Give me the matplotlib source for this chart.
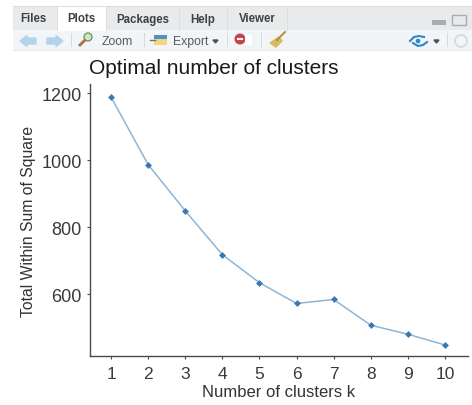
import matplotlib
matplotlib.use("Agg")
import matplotlib.pyplot as plt
from matplotlib.patches import Rectangle, Polygon, Circle

k_values = [1, 2, 3, 4, 5, 6, 7, 8, 9, 10]
wss_values = [1189, 987, 849, 718, 634, 572, 584, 507, 480, 448]
y_ticks = [600, 800, 1000, 1200]
tabs = ["Files", "Plots", "Packages", "Help", "Viewer"]
tab_centers = [33.5, 81, 142.5, 203, 257]
tab_edges = [57, 106, 179, 227, 287]

W, H = 472, 406
plt.rcParams['font.family'] = ['Liberation Sans', 'DejaVu Sans']

fig = plt.figure(figsize=(W / 100, H / 100), dpi=100)

# whole figure in pixel coordinates for the RStudio toolbar
bg = fig.add_axes([0, 0, 1, 1])
bg.set_xlim(0, W)
bg.set_ylim(H, 0)
bg.axis("off")


def rect(x0, y0, x1, y1, color, **kw):
    bg.add_patch(Rectangle((x0, y0), x1 - x0, y1 - y0, facecolor=color, edgecolor='none', **kw))


rect(13, 7, W, 31, '#e9eaec')
rect(13, 31, W, 51, '#f1f5f8')
rect(57, 7, 106, 32, 'white')
for edge in tab_edges:
    bg.plot([edge, edge], [8, 31], color='#dcdee0', lw=0.7)
bg.plot([13, W], [6.5, 6.5], color='#dddee0', lw=0.8)
bg.plot([13, W], [51, 51], color='#e8ebee', lw=0.8)
for name, cx in zip(tabs, tab_centers):
    bg.text(cx, 19.5, name, ha='center', va='center', fontsize=8.3, fontweight='bold', color='#3c4148')

# back / forward arrows
bg.add_patch(Polygon([(20, 42), (27, 36.5), (27, 39), (36, 39), (36, 45), (27, 45), (27, 47.5)], color='#b3d3e9'))
bg.add_patch(Polygon([(63, 42), (56, 36.5), (56, 39), (47, 39), (47, 45), (56, 45), (56, 47.5)], color='#b3d3e9'))
for x in [70.5, 143.5, 227, 261, 447]:
    bg.plot([x, x], [34, 47], color='#d6dade', lw=0.7)

# zoom
bg.add_patch(Circle((88, 38), 4, facecolor='#cfe6c4', edgecolor='#6f8f5a', lw=0.9))
bg.plot([84.5, 80], [41.5, 46], color='#a9753a', lw=2)
bg.text(102, 42, "Zoom", ha='left', va='center', fontsize=8.8, color='#555b63')

# export
rect(154, 36, 167, 46, '#f2d67a')
rect(154, 36, 167, 40, '#4f8fd0')
bg.plot([150, 155], [41, 41], color='#6f7378', lw=1)
bg.text(173, 42, "Export", ha='left', va='center', fontsize=8.8, color='#555b63')
bg.add_patch(Polygon([(213, 41), (218, 41), (215.5, 44)], color='#4a5058'))

# remove plot
bg.add_patch(Circle((240, 40), 4.8, color='#c9414a'))
bg.plot([238, 242], [40, 40], color='white', lw=1.5)
rect(245, 36, 252, 46, 'white')

# broom
bg.plot([285, 277], [33, 41], color='#b98a3e', lw=1.4)
bg.add_patch(Polygon([(279, 38), (270, 44), (276, 48), (282, 42)], color='#dcb95c'))

# sync icon + dropdown, right side
bg.plot([410, 414, 419, 424], [42, 38, 37, 38], color='#2f86c8', lw=1.5)
bg.plot([413, 418, 423, 427], [44, 47, 46, 43], color='#2f86c8', lw=1.5)
bg.add_patch(Circle((418, 42), 1.6, color='#2f86c8'))
bg.add_patch(Polygon([(434, 41), (439, 41), (436.5, 44)], color='#4a5058'))
bg.add_patch(Circle((461, 42), 6, facecolor='none', edgecolor='#d7dcdf', lw=1.4))

# window buttons
rect(432, 21, 446, 25.5, '#a8acb0')
bg.add_patch(Rectangle((452, 16), 14, 10, facecolor='none', edgecolor='#a8acb0', lw=1))

# plot area
left, right, top, bottom = 89.5, 468, 85, 357
ax = fig.add_axes([left / W, 1 - bottom / H, (right - left) / W, (bottom - top) / H])
ax.patch.set_alpha(0)
ax.plot(k_values, wss_values, color='#8db5d6', lw=1.1, zorder=2)
ax.plot(k_values, wss_values, ls='none', marker='D', ms=3.5, color='#3a78ae', mew=0, zorder=3)
ax.set_xlim(0.42, 10.62)
ax.set_ylim(415, 1228)
ax.set_xticks(k_values)
ax.set_yticks(y_ticks)
ax.spines['top'].set_visible(False)
ax.spines['right'].set_visible(False)
ax.spines['left'].set_color('#4a4a4a')
ax.spines['bottom'].set_color('#4a4a4a')
ax.spines['left'].set_linewidth(1.0)
ax.spines['bottom'].set_linewidth(1.0)
ax.tick_params(axis='both', labelsize=12.5, length=2.5, width=0.8, color='#4a4a4a', labelcolor='#3a3a3a', pad=3)
ax.tick_params(axis='y', labelsize=13)
ax.tick_params(axis='x', pad=5)

bg.text(89, 68, "Optimal number of clusters", ha='left', va='center', fontsize=15, color='#1a1a1a')
bg.text(278.5, 392.5, "Number of clusters k", ha='center', va='center', fontsize=12, color='#333333')
bg.text(28.5, 221.5, "Total Within Sum of Square", ha='center', va='center', rotation=90, fontsize=11.3, color='#333333')

fig.savefig("out.png", dpi=100)
plt.close()
